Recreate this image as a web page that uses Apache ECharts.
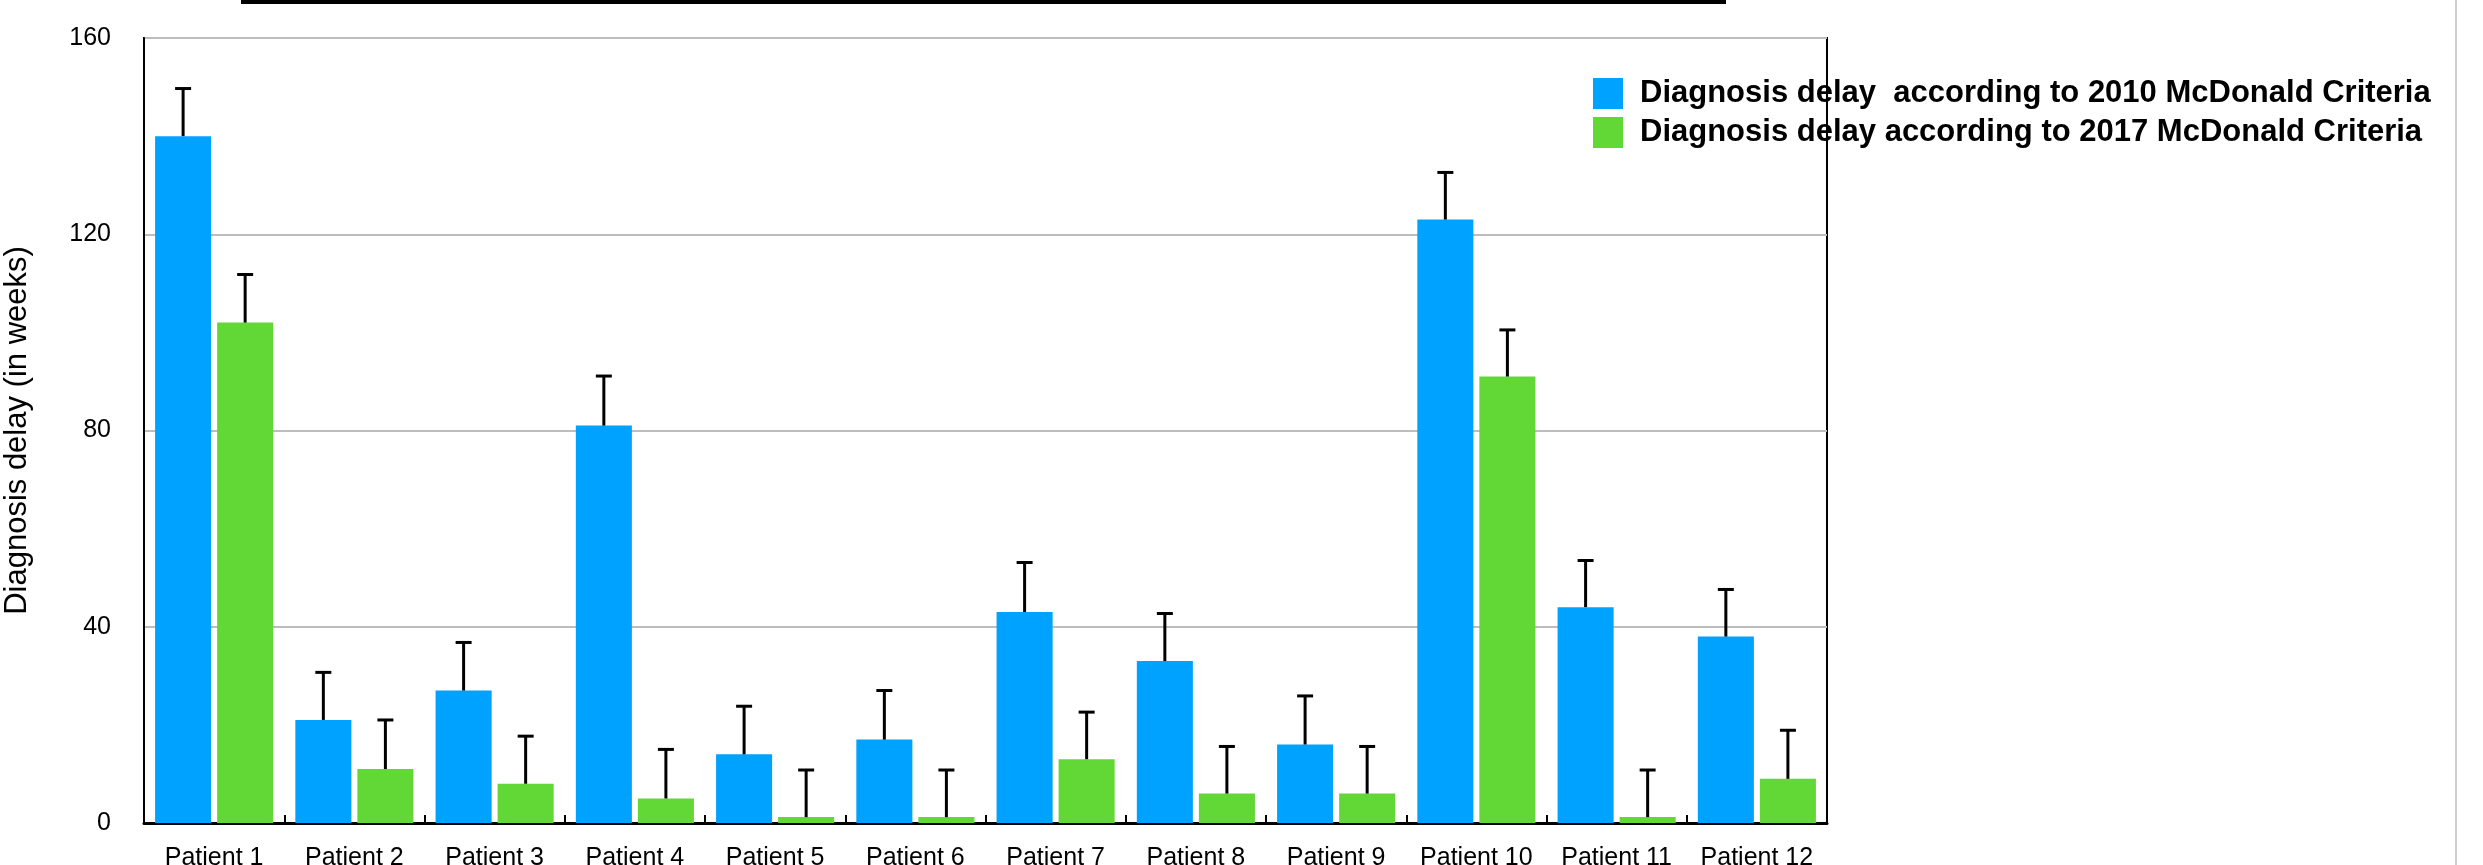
<!DOCTYPE html>
<html>
<head>
<meta charset="utf-8">
<script src="https://cdn.jsdelivr.net/npm/echarts@6/dist/echarts.min.js"></script>
<style>
html,body{margin:0;padding:0;background:#fff;}
#chart{width:2483px;height:865px;}
</style>
</head>
<body>
<div id="chart"></div>
<script>
var categories = ['Patient 1','Patient 2','Patient 3','Patient 4','Patient 5','Patient 6','Patient 7','Patient 8','Patient 9','Patient 10','Patient 11','Patient 12'];
var seriesNames = ['Diagnosis delay  according to 2010 McDonald Criteria','Diagnosis delay according to 2017 McDonald Criteria'];
var delay2010 = [140, 21, 27, 81, 14, 17, 43, 33, 16, 123, 44, 38];
var delay2017 = [102, 11, 8, 5, 1.2, 1.2, 13, 6, 6, 91, 1.2, 9];
var err2010 = [9.7, 9.7, 9.8, 10.1, 9.8, 10.0, 10.1, 9.7, 9.9, 9.6, 9.5, 9.6];
var err2017 = [9.8, 10.0, 9.7, 10.0, 9.6, 9.6, 9.6, 9.6, 9.6, 9.5, 9.6, 9.9];
var yTicks = {min: 0, max: 160, interval: 40};

var CAT_GAP = 0.158, BAR_GAP = 0.107;
var FONT = "'Liberation Sans', Arial, Helvetica, sans-serif";

var errData = [];
categories.forEach(function(c, i){
  errData.push([i, delay2010[i], err2010[i], 0]);
  errData.push([i, delay2017[i], err2017[i], 1]);
});

function renderErr(params, api){
  var idx = api.value(0), v = api.value(1), e = api.value(2), s = api.value(3);
  var band = api.size([1, 0])[0];
  var barW = band * (1 - CAT_GAP) / (2 + BAR_GAP);
  var off = (s === 0 ? -1 : 1) * barW * (1 + BAR_GAP) / 2;
  var p0 = api.coord([idx, v]);
  var p1 = api.coord([idx, v + e]);
  var x = p0[0] + off;
  return {type: 'group', children: [
    {type: 'line', shape: {x1: x, y1: p0[1], x2: x, y2: p1[1]}, style: {stroke: '#000', lineWidth: 3}},
    {type: 'line', shape: {x1: x - 8, y1: p1[1], x2: x + 8, y2: p1[1]}, style: {stroke: '#000', lineWidth: 3}}
  ]};
}

var chart = echarts.init(document.getElementById('chart'), null, {renderer: 'canvas'});
chart.setOption({
  backgroundColor: '#fff',
  animation: false,
  textStyle: {fontFamily: FONT},
  grid: {left: 144, right: 656, top: 38, bottom: 42, containLabel: false, outerBoundsMode: 'none',
         show: true, borderColor: '#000', borderWidth: 2, backgroundColor: 'transparent'},
  legend: {
    orient: 'vertical', left: 1588, top: 73,
    itemWidth: 30, itemHeight: 31, itemGap: 8,
    icon: 'rect',
    data: seriesNames,
    textStyle: {fontFamily: FONT, fontSize: 31, fontWeight: 'bold', color: '#000', padding: [0, 0, 0, 12]}
  },
  xAxis: {
    type: 'category', data: categories,
    axisLine: {show: true, lineStyle: {color: '#000', width: 3}},
    axisTick: {show: true, inside: true, length: 8, lineStyle: {color: '#000', width: 2}},
    axisLabel: {fontFamily: FONT, fontSize: 25, color: '#000', margin: 23, interval: 0},
    splitLine: {show: false}
  },
  yAxis: {
    type: 'value', min: yTicks.min, max: yTicks.max, interval: yTicks.interval,
    name: 'Diagnosis delay (in weeks)', nameLocation: 'middle', nameGap: 111, nameRotate: 90,
    nameTextStyle: {fontFamily: FONT, fontSize: 31, color: '#000'},
    axisLine: {show: true, lineStyle: {color: '#000', width: 2}},
    axisTick: {show: false},
    axisLabel: {fontFamily: FONT, fontSize: 25, color: '#000', margin: 33},
    splitLine: {show: true, lineStyle: {color: '#bdbdbd', width: 2}}
  },
  series: [
    {name: seriesNames[0], type: 'bar', data: delay2010, itemStyle: {color: '#00A2FF'},
     barCategoryGap: (CAT_GAP * 100) + '%', barGap: (BAR_GAP * 100) + '%', z: 2},
    {name: seriesNames[1], type: 'bar', data: delay2017, itemStyle: {color: '#61D836'},
     barCategoryGap: (CAT_GAP * 100) + '%', barGap: (BAR_GAP * 100) + '%', z: 2},
    {type: 'custom', renderItem: renderErr, data: errData, encode: {x: 0, y: 1}, z: 3, silent: true}
  ],
  graphic: [
    {type: 'rect', shape: {x: 241, y: 0, width: 1485, height: 4}, style: {fill: '#000'}, z: 10},
    {type: 'line', shape: {x1: 2456, y1: 0, x2: 2456, y2: 865}, style: {stroke: '#cfcfcf', lineWidth: 2}, z: 10}
  ]
});
</script>
</body>
</html>
